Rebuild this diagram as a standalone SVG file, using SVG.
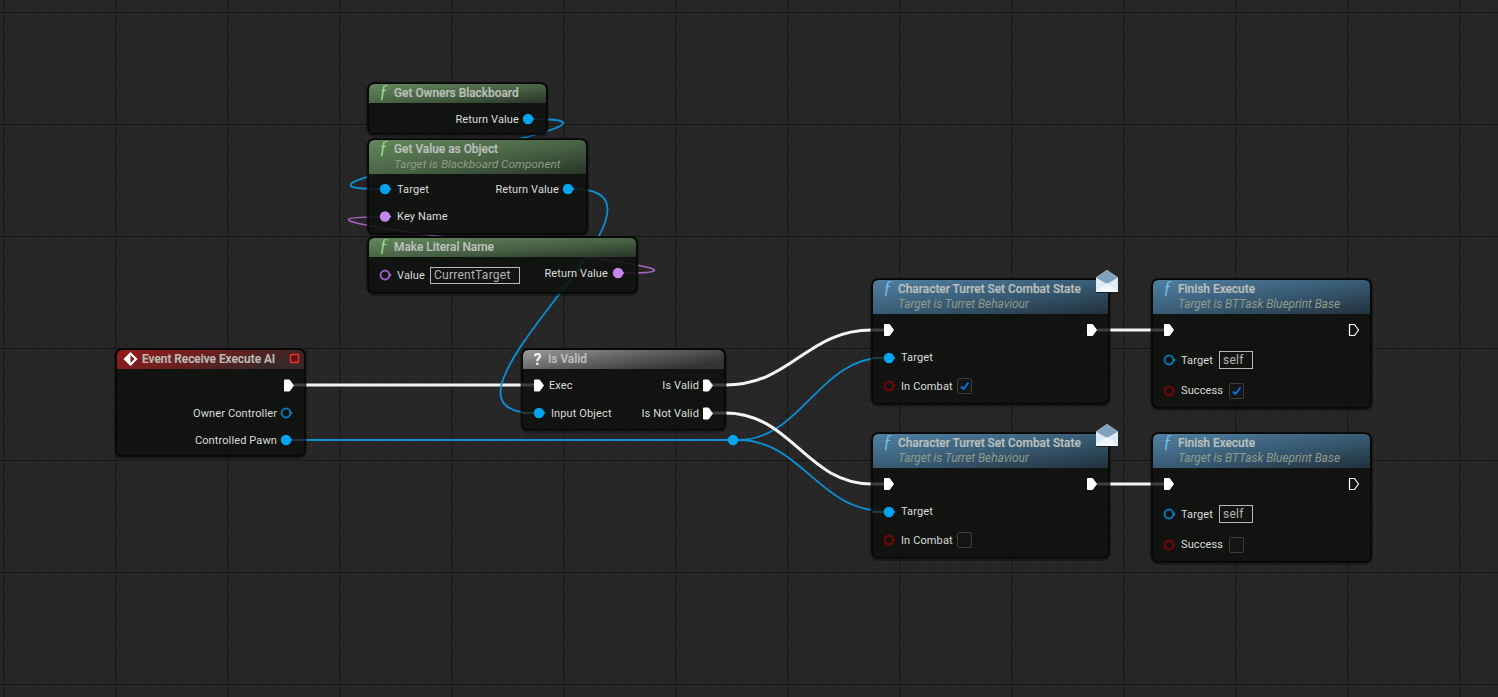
<svg xmlns="http://www.w3.org/2000/svg" width="1498" height="697" viewBox="0 0 1498 697">
<style>
text{font-family:Roboto,"Liberation Sans",sans-serif}
.title{font-size:11.9px;font-weight:500;fill:#bcc0bc;stroke:#bcc0bc;stroke-width:.2}
.sub{font-size:11.8px;font-style:italic;fill:#8f9b84}
.subb{font-size:11.85px;font-style:italic;fill:#8f9a8a}
.lbl{font-size:11px;fill:#dcdcdc;letter-spacing:.12px}
.r{text-anchor:end}
.val{font-size:12px;fill:#b4b4b4;letter-spacing:.25px}
.fn{font-family:"Liberation Serif",serif;font-size:18px;font-style:italic}
.fg{fill:#9bdc88}
.fb{fill:#78bdea}
.sd{fill:none;stroke:#000;stroke-opacity:.3;stroke-width:4}
.body{fill:#0e110e;fill-opacity:.88;stroke:#060706;stroke-width:1.5}
.hd{fill-opacity:.92}
.box{fill:#121412;stroke:#b8b8b8;stroke-width:1}
.chk{fill:#141514;stroke:#3a3b3a;stroke-width:1}
.tick{fill:none;stroke:#0a6fe0;stroke-width:2}
.w{fill:none;stroke:#f4f4f4;stroke-width:3}
.b{fill:none;stroke:#0c8fd4;stroke-width:1.8}
.p{fill:none;stroke:#a663bd;stroke-width:1.6}
.stub{stroke:#3e403e;stroke-width:3}
.stubb{stroke:#22353f;stroke-width:2}
</style>
<defs>
<pattern id="minor" width="14" height="14" patternUnits="userSpaceOnUse" x="3" y="12">
<path d="M.5 0V14M0 .5H14" stroke="#2a2a2a" stroke-width="1" fill="none"/>
</pattern>
<pattern id="major" width="112" height="112" patternUnits="userSpaceOnUse" x="3" y="12">
<path d="M.5 0V112M0 .5H112" stroke="#181818" stroke-width="1.2" fill="none"/>
</pattern>
<linearGradient id="gG" x1="0" y1="0" x2="1" y2="1"><stop offset="0" stop-color="#6a9263"/><stop offset=".55" stop-color="#4c6848"/><stop offset="1" stop-color="#2a382b"/></linearGradient>
<linearGradient id="gB" x1="0" y1="0" x2="1" y2="1"><stop offset="0" stop-color="#568aaf"/><stop offset=".55" stop-color="#3a5e79"/><stop offset="1" stop-color="#22333f"/></linearGradient>
<linearGradient id="gR" x1="0" y1="0" x2="1" y2=".3"><stop offset="0" stop-color="#a01c1c"/><stop offset=".6" stop-color="#6a2222"/><stop offset="1" stop-color="#3a2a2a"/></linearGradient>
<linearGradient id="gW" x1="0" y1="0" x2="1" y2=".6"><stop offset="0" stop-color="#a8a8a8"/><stop offset=".5" stop-color="#6a6a6a"/><stop offset="1" stop-color="#363636"/></linearGradient>
<path id="ex" d="M-4.500-5.500H.5L4.500 0 .5 5.500H-4.500Z" fill="#fff" stroke="#fff" stroke-linejoin="round"/>
<path id="exo" d="M-4.500-5.500H.5L4.500 0 .5 5.500H-4.500Z" fill="none" stroke="#fff" stroke-width="1.2" stroke-linejoin="round"/>
<g id="db"><path d="M4 -2L6.500 0 4 2Z" fill="#00a4ef"/><circle r="5.200" fill="#00a4ef"/></g>
<g id="do"><path d="M4.500 -2L6.800 0 4.500 2Z" fill="#0a78b4"/><circle r="4.400" fill="none" stroke="#0a78b4" stroke-width="2"/></g>
<g id="dp"><path d="M4 -2L6.500 0 4 2Z" fill="#c585ee"/><circle r="5.200" fill="#c585ee"/></g>
<g id="dpo"><path d="M4.500 -2L6.800 0 4.500 2Z" fill="#a05cc8"/><circle r="4.400" fill="none" stroke="#a05cc8" stroke-width="2"/></g>
<g id="dr"><path d="M4.500 -2L6.800 0 4.500 2Z" fill="#6e0606"/><circle r="4.400" fill="none" stroke="#6e0606" stroke-width="2.200"/></g>
<g id="env">
<path d="M0 7.500L11 0 22 7.500V21H0Z" fill="#dcebf5"/>
<path d="M0 7.500L11 0 22 7.500 11 14Z" fill="#7fa3be"/>
<path d="M0 21L11 13 22 21V22H0Z" fill="#eef6fb"/>
<path d="M0 22.500H22" stroke="#1a1c1c" stroke-width="1"/>
</g>
</defs>

<rect width="1498" height="697" fill="#262626"/>
<rect width="1498" height="697" fill="url(#minor)"/>
<rect width="1498" height="697" fill="url(#major)"/>

<g id="connectors">
<path class="w" d="M305 385H522"/>
<path class="b" d="M294 440H728"/>
<path class="b" d="M738 440C802 440 818 357.500 885 357.500"/>
<path class="b" d="M738 440C802 440 818 511 885 511"/>
<path class="w" d="M725 385C792 385 806 330 872 330"/>
<path class="w" d="M725 413C792 413 806 484 872 484"/>
<path class="w" d="M1109 330H1152"/>
<path class="w" d="M1109 484H1152"/>
<path class="b" d="M533 119C680 119 235 189 380 189"/>
<path class="b" d="M573 189C706 189 402 413 535 413"/>
<path class="p" d="M623 273C793 273 210 217 380 217"/>
</g>

<g id="node-get-owners-blackboard">
<rect class="sd" x="368" y="84" width="179" height="51" rx="6"/>
<rect class="body" x="368" y="83" width="179" height="51" rx="6"/>
<path class="hd" d="M369 103V90Q369 84 375 84H540Q546 84 546 90V103Z" fill="url(#gG)"/>
<text class="fn fg" x="379" y="98">ƒ</text>
<text class="title" x="394" y="97">Get Owners Blackboard</text>
<text class="lbl r" x="519" y="123">Return Value</text>
<use href="#db" x="528" y="119"/>
</g>

<g id="node-get-value-as-object">
<rect class="sd" x="368" y="140" width="219" height="95" rx="6"/>
<rect class="body" x="368" y="139" width="219" height="95" rx="6"/>
<path class="hd" d="M369 174V146Q369 140 375 140H580Q586 140 586 146V174Z" fill="url(#gG)"/>
<text class="fn fg" x="379" y="154">ƒ</text>
<text class="title" x="394" y="153">Get Value as Object</text>
<text class="sub" x="394" y="168">Target is Blackboard Component</text>
<use href="#db" x="385" y="189"/>
<text class="lbl" x="397" y="193">Target</text>
<text class="lbl r" x="559" y="193">Return Value</text>
<use href="#db" x="568" y="189"/>
<use href="#dp" x="385" y="216.500"/>
<text class="lbl" x="397" y="220">Key Name</text>
</g>

<g id="node-make-literal-name">
<rect class="sd" x="368" y="238" width="269" height="56" rx="6"/>
<rect class="body" x="368" y="237" width="269" height="56" rx="6"/>
<path class="hd" d="M369 257V244Q369 238 375 238H630Q636 238 636 244V257Z" fill="url(#gG)"/>
<text class="fn fg" x="379" y="252">ƒ</text>
<text class="title" x="394" y="251">Make Literal Name</text>
<use href="#dpo" x="385" y="275"/>
<text class="lbl" x="397" y="279">Value</text>
<rect class="box" x="430.500" y="267.500" width="89" height="16"/>
<text class="val" x="434" y="279">CurrentTarget</text>
<text class="lbl r" x="608" y="277">Return Value</text>
<use href="#dp" x="618" y="273"/>
</g>

<g id="node-event-receive-execute-ai">
<rect class="sd" x="116" y="350" width="189" height="107" rx="6"/>
<rect class="body" x="116" y="349" width="189" height="107" rx="6"/>
<path class="hd" d="M117 369V356Q117 350 123 350H298Q304 350 304 356V369Z" fill="url(#gR)"/>
<path d="M130.500 352L137.500 359 130.500 366 123.500 359Z" fill="#fff"/>
<path d="M130.500 355L134.500 359 130.500 363Z" fill="#7a1c1c"/>
<text class="title" x="142" y="363">Event Receive Execute AI</text>
<rect x="290.500" y="354.500" width="8" height="8" rx="1" fill="#5a1414" stroke="#ff2a2a" stroke-width="1.500"/>
<line class="stub" x1="294" y1="385" x2="305" y2="385"/>
<use href="#ex" x="289" y="385.500"/>
<text class="lbl r" x="277" y="417">Owner Controller</text>
<use href="#do" x="286" y="413"/>
<text class="lbl r" x="277" y="444">Controlled Pawn</text>
<line class="stubb" x1="292" y1="440" x2="305" y2="440"/>
<use href="#db" x="286" y="440"/>
</g>

<g id="node-is-valid">
<rect class="sd" x="522" y="350" width="203" height="81" rx="6"/>
<rect class="body" x="522" y="349" width="203" height="81" rx="6"/>
<path class="hd" d="M523 369V356Q523 350 529 350H718Q724 350 724 356V369Z" fill="url(#gW)"/>
<text x="533.500" y="365" font-size="16" font-weight="700" fill="#f0f0f0">?</text>
<text class="title" x="548" y="363">Is Valid</text>
<line class="stub" x1="522" y1="385" x2="536" y2="385"/>
<use href="#ex" x="539" y="385.500"/>
<text class="lbl" x="549" y="389">Exec</text>
<line class="stubb" x1="522" y1="413" x2="536" y2="413"/>
<use href="#db" x="539" y="413"/>
<text class="lbl" x="551" y="417">Input Object</text>
<text class="lbl r" x="699" y="389">Is Valid</text>
<line class="stub" x1="712" y1="385" x2="725" y2="385"/>
<use href="#ex" x="708" y="385.500"/>
<text class="lbl r" x="699" y="417">Is Not Valid</text>
<line class="stub" x1="712" y1="413" x2="725" y2="413"/>
<use href="#ex" x="708" y="413.500"/>
</g>

<g id="node-set-combat-state-1">
<rect class="sd" x="872" y="280" width="237" height="125" rx="6"/>
<rect class="body" x="872" y="279" width="237" height="125" rx="6"/>
<path class="hd" d="M873 314V286Q873 280 879 280H1102Q1108 280 1108 286V314Z" fill="url(#gB)"/>
<text class="fn fb" x="883" y="294">ƒ</text>
<text class="title" x="898" y="293">Character Turret Set Combat State</text>
<text class="subb" x="898" y="308">Target is Turret Behaviour</text>
<use href="#env" x="1096" y="270"/>
<line class="stub" x1="872" y1="330" x2="886" y2="330"/>
<use href="#ex" x="889" y="330"/>
<line class="stub" x1="1096" y1="330" x2="1109" y2="330"/>
<use href="#ex" x="1092" y="330"/>
<line class="stubb" x1="872" y1="358" x2="886" y2="358"/>
<use href="#db" x="889" y="358"/>
<text class="lbl" x="901" y="361">Target</text>
<use href="#dr" x="889" y="386"/>
<text class="lbl" x="901" y="390">In Combat</text>
<rect class="chk" x="957.500" y="378.500" width="14" height="15" rx="1"/>
<path class="tick" d="M961 386.500L963.500 389 968.500 382.500"/>
</g>

<g id="node-finish-execute-1">
<rect class="sd" x="1152" y="280" width="219" height="129" rx="6"/>
<rect class="body" x="1152" y="279" width="219" height="129" rx="6"/>
<path class="hd" d="M1153 314V286Q1153 280 1159 280H1364Q1370 280 1370 286V314Z" fill="url(#gB)"/>
<text class="fn fb" x="1163" y="294">ƒ</text>
<text class="title" x="1178" y="293">Finish Execute</text>
<text class="subb" x="1178" y="308">Target is BTTask Blueprint Base</text>
<line class="stub" x1="1152" y1="330" x2="1166" y2="330"/>
<use href="#ex" x="1169" y="330"/>
<use href="#exo" x="1354" y="330"/>
<use href="#do" x="1169" y="360"/>
<text class="lbl" x="1181" y="364">Target</text>
<rect class="box" x="1219.500" y="351.500" width="33" height="17"/>
<text class="val" x="1223" y="364">self</text>
<use href="#dr" x="1169" y="391"/>
<text class="lbl" x="1181" y="394">Success</text>
<rect class="chk" x="1229.500" y="383.500" width="14" height="15" rx="1"/>
<path class="tick" d="M1233 391.500L1235.500 394 1240.500 387.500"/>
</g>

<g id="node-set-combat-state-2">
<rect class="sd" x="872" y="434" width="237" height="125" rx="6"/>
<rect class="body" x="872" y="433" width="237" height="125" rx="6"/>
<path class="hd" d="M873 468V440Q873 434 879 434H1102Q1108 434 1108 440V468Z" fill="url(#gB)"/>
<text class="fn fb" x="883" y="448">ƒ</text>
<text class="title" x="898" y="447">Character Turret Set Combat State</text>
<text class="subb" x="898" y="462">Target is Turret Behaviour</text>
<use href="#env" x="1096" y="424"/>
<line class="stub" x1="872" y1="484" x2="886" y2="484"/>
<use href="#ex" x="889" y="484"/>
<line class="stub" x1="1096" y1="484" x2="1109" y2="484"/>
<use href="#ex" x="1092" y="484"/>
<line class="stubb" x1="872" y1="512" x2="886" y2="512"/>
<use href="#db" x="889" y="512"/>
<text class="lbl" x="901" y="515">Target</text>
<use href="#dr" x="889" y="540"/>
<text class="lbl" x="901" y="544">In Combat</text>
<rect class="chk" x="957.500" y="532.500" width="14" height="15" rx="1"/>
</g>

<g id="node-finish-execute-2">
<rect class="sd" x="1152" y="434" width="219" height="129" rx="6"/>
<rect class="body" x="1152" y="433" width="219" height="129" rx="6"/>
<path class="hd" d="M1153 468V440Q1153 434 1159 434H1364Q1370 434 1370 440V468Z" fill="url(#gB)"/>
<text class="fn fb" x="1163" y="448">ƒ</text>
<text class="title" x="1178" y="447">Finish Execute</text>
<text class="subb" x="1178" y="462">Target is BTTask Blueprint Base</text>
<line class="stub" x1="1152" y1="484" x2="1166" y2="484"/>
<use href="#ex" x="1169" y="484"/>
<use href="#exo" x="1354" y="484"/>
<use href="#do" x="1169" y="514"/>
<text class="lbl" x="1181" y="518">Target</text>
<rect class="box" x="1219.500" y="505.500" width="33" height="17"/>
<text class="val" x="1223" y="518">self</text>
<use href="#dr" x="1169" y="545"/>
<text class="lbl" x="1181" y="548">Success</text>
<rect class="chk" x="1229.500" y="537.500" width="14" height="15" rx="1"/>
</g>

<g id="knot"><use href="#db" x="733" y="440"/></g>
</svg>
